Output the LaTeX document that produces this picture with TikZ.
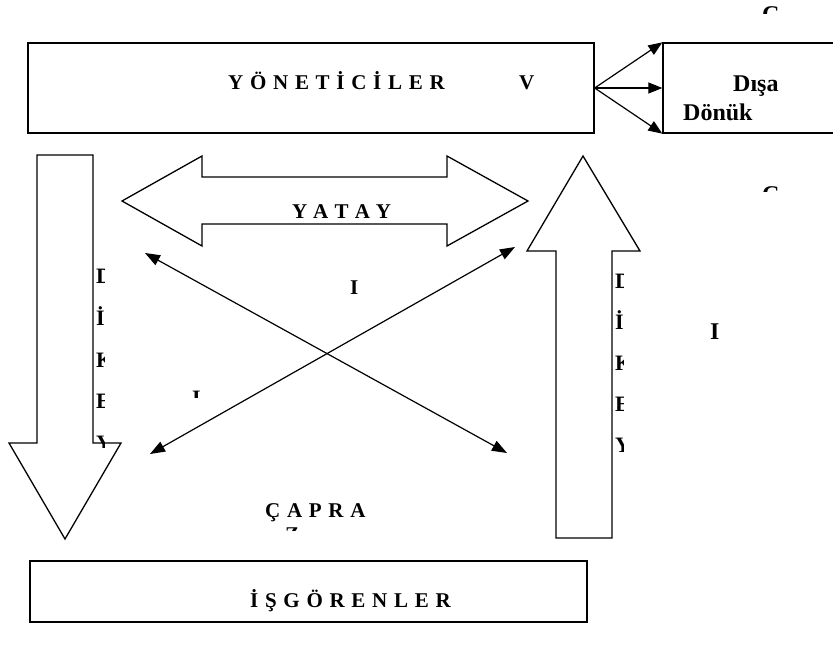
\documentclass[tikz,border=0pt]{standalone}
\usepackage{fontspec}
\setmainfont{Liberation Serif}
\newfontfamily\spacedserif[LetterSpace=32]{Liberation Serif}
\usetikzlibrary{arrows.meta}

\tikzset{
  outline/.style={draw=black, line width=1.3pt, line join=miter},
  boxnode/.style={outline, rectangle, inner sep=0pt},
  flow/.style={draw=black, line width=1.2pt,
    -{Triangle[length=14pt,width=11pt]}},
  flowboth/.style={draw=black, line width=1.2pt,
    {Triangle[length=15pt,width=11pt]}-{Triangle[length=15pt,width=11pt]}},
  spacedlabel/.style={inner sep=0pt, anchor=base west,
    font=\spacedserif\bfseries\fontsize{21}{25}\selectfont},
  plainlabel/.style={inner sep=0pt, anchor=base west,
    font=\bfseries\fontsize{24}{28}\selectfont},
  columnletter/.style={inner sep=0pt, anchor=base west,
    font=\bfseries\fontsize{22}{26}\selectfont},
}

\begin{document}
\begin{tikzpicture}[x=1pt, y=-1pt]
\useasboundingbox (0,0) rectangle (833,653);
\clip (0,0) rectangle (833,653);

% boxes
\node[boxnode, minimum width=566pt, minimum height=90pt] (yon) at (311,88) {};
\node[boxnode, minimum width=240pt, minimum height=90pt] (dis) at (783,88) {};
\node[boxnode, minimum width=557pt, minimum height=61pt] (isg) at (308.5,591.5) {};

% box labels
\node[spacedlabel] (yontext) at (228,89) {YÖNETİCİLER};
\node[spacedlabel] (yonv) at (519,89) {V};
\node[plainlabel] (distext1) at (733,91) {Dışa};
\node[plainlabel] (distext2) at (683,120) {Dönük};
\node[spacedlabel] (isgtext) at (250,607) {İŞGÖRENLER};

% outward fan to the external box
\draw[flow] (yon.east) -- (dis.north west);
\draw[flow] (yon.east) -- (dis.west);
\draw[flow] (yon.east) -- (dis.south west);

% downward block arrow
\draw[outline] (37,155) -- (93,155) -- (93,443) -- (121,443) -- (65,539)
  -- (9,443) -- (37,443) -- cycle;
% upward block arrow
\draw[outline] (556,538) -- (556,251) -- (527,251) -- (583,156) -- (640,251)
  -- (612,251) -- (612,538) -- cycle;
% horizontal double block arrow
\draw[outline] (122,201) -- (202,156) -- (202,177) -- (447,177) -- (447,156)
  -- (528,201) -- (447,246) -- (447,224) -- (202,224) -- (202,246) -- cycle;
\node[spacedlabel] (yatay) at (292,218) {\addfontfeature{LetterSpace=37}YATAY};

% crossing diagonal arrows
\coordinate (dul) at (145,253);
\coordinate (dlr) at (507,453);
\coordinate (dur) at (515,247);
\coordinate (dll) at (150,454);
\draw[flowboth] (dul) -- (dlr);
\draw[flowboth] (dur) -- (dll);

\node[spacedlabel] (capra) at (265,517) {ÇAPRA};
\node[columnletter, font=\bfseries\fontsize{21}{25}\selectfont] (midi) at (350,294) {I};
\node[plainlabel] (righti) at (710,339) {I};

% vertical letter columns beside the block arrows
\begin{scope}
  \clip (94,250) rectangle (104,447);
  \node[columnletter] (lc1) at (96,283) {D};
  \node[columnletter] (lc2) at (96,325) {İ};
  \node[columnletter] (lc3) at (96,367) {K};
  \node[columnletter] (lc4) at (96,408) {E};
  \node[columnletter] (lc5) at (96,450) {Y};
\end{scope}
\begin{scope}
  \clip (613,255) rectangle (623,470);
  \node[columnletter] (rc1) at (615,288) {D};
  \node[columnletter] (rc2) at (615,329) {İ};
  \node[columnletter] (rc3) at (615,370) {K};
  \node[columnletter] (rc4) at (615,411) {E};
  \node[columnletter] (rc5) at (615,452) {Y};
\end{scope}

% partly hidden letters
\begin{scope}
  \clip (185,385) rectangle (210,397);
  \node[columnletter] (frag1) at (192,405) {I};
\end{scope}
\begin{scope}
  \clip (280,520) rectangle (305,530);
  \node[spacedlabel] (frag2) at (285,541) {Z};
\end{scope}
\begin{scope}
  \clip (755,0) rectangle (790,13);
  \node[plainlabel] (frag3) at (762,22) {C};
\end{scope}
\begin{scope}
  \clip (755,180) rectangle (790,191);
  \node[plainlabel] (frag4) at (762,202) {C};
\end{scope}
\end{tikzpicture}
\end{document}
